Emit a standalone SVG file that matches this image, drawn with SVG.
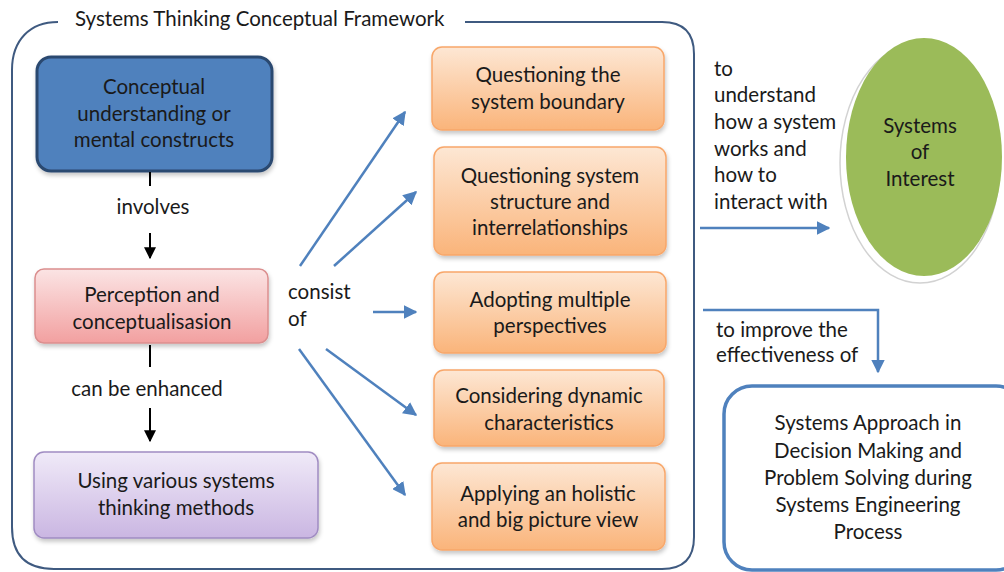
<svg xmlns="http://www.w3.org/2000/svg" width="1004" height="572" viewBox="0 0 1004 572">
<defs>
<linearGradient id="gOrange" x1="0" y1="0" x2="0" y2="1"><stop offset="0" stop-color="#FDE7D4"/><stop offset="1" stop-color="#FAB47A"/></linearGradient>
<linearGradient id="gPink" x1="0" y1="0" x2="0" y2="1"><stop offset="0" stop-color="#FBE4E4"/><stop offset="1" stop-color="#F2A0A0"/></linearGradient>
<linearGradient id="gPurple" x1="0" y1="0" x2="0" y2="1"><stop offset="0" stop-color="#F0EAF8"/><stop offset="1" stop-color="#CAB6E2"/></linearGradient>
<filter id="sh" x="-10%" y="-10%" width="120%" height="130%"><feDropShadow dx="1" dy="3" stdDeviation="2" flood-color="#000" flood-opacity="0.22"/></filter>
<marker id="ab" viewBox="0 0 10 10" refX="9" refY="5" markerWidth="5.5" markerHeight="5.5" orient="auto" markerUnits="strokeWidth"><path d="M0,0 L10,5 L0,10 z" fill="#4F81BD"/></marker>
<marker id="ak" viewBox="0 0 10 10" refX="9" refY="5" markerWidth="6" markerHeight="6" orient="auto" markerUnits="strokeWidth"><path d="M0,0 L10,5 L0,10 z" fill="#000"/></marker>
<style>
text{font-family:Lato,"Liberation Sans",sans-serif;font-size:20.5px;fill:#1a1a1a}
.c{text-anchor:middle}
.org{fill:url(#gOrange);stroke:#F8A76A;stroke-width:1.5;filter:url(#sh)}
.blu{stroke:#4F81BD;stroke-width:2.5;fill:none;marker-end:url(#ab)}
.blk{stroke:#000;stroke-width:2;fill:none}
</style>
</defs>

<g id="frame">
<path d="M465,22 L662,22 Q694,22 694,54 L694,537 Q694,569 662,569 L54,569 Q12,569 12,527 L12,70 C12,40 30,22 58,22" fill="none" stroke="#3F5A80" stroke-width="2"/>
<text x="75" y="26">Systems Thinking Conceptual Framework</text>
</g>

<g id="n-conceptual">
<rect x="37" y="57" width="235" height="114" rx="14" fill="#4F81BD" stroke="#2B4870" stroke-width="3" filter="url(#sh)"/>
<text class="c" x="154" y="94">Conceptual</text>
<text class="c" x="154" y="121">understanding or</text>
<text class="c" x="154" y="147">mental constructs</text>
</g>

<g id="n-perception">
<rect x="35" y="269" width="233" height="74" rx="9" fill="url(#gPink)" stroke="#DB8F8F" stroke-width="1.5" filter="url(#sh)"/>
<text class="c" x="152" y="302">Perception and</text>
<text class="c" x="152" y="329">conceptualisasion</text>
</g>

<g id="n-methods">
<rect x="34" y="452" width="284" height="86" rx="10" fill="url(#gPurple)" stroke="#A08CC2" stroke-width="1.5" filter="url(#sh)"/>
<text class="c" x="176" y="488">Using various systems</text>
<text class="c" x="176" y="515">thinking methods</text>
</g>

<g id="n-q1">
<rect class="org" x="432" y="47" width="232" height="83" rx="10"/>
<text class="c" x="548" y="82">Questioning the</text>
<text class="c" x="548" y="109">system boundary</text>
</g>
<g id="n-q2">
<rect class="org" x="434" y="147" width="232" height="108" rx="10"/>
<text class="c" x="550" y="183">Questioning system</text>
<text class="c" x="550" y="209">structure and</text>
<text class="c" x="550" y="235">interrelationships</text>
</g>
<g id="n-q3">
<rect class="org" x="434" y="272" width="232" height="81" rx="10"/>
<text class="c" x="550" y="307">Adopting multiple</text>
<text class="c" x="550" y="333">perspectives</text>
</g>
<g id="n-q4">
<rect class="org" x="434" y="370" width="230" height="76" rx="10"/>
<text class="c" x="549" y="403">Considering dynamic</text>
<text class="c" x="549" y="430">characteristics</text>
</g>
<g id="n-q5">
<rect class="org" x="432" y="463" width="233" height="87" rx="10"/>
<text class="c" x="548" y="501">Applying an holistic</text>
<text class="c" x="548" y="527">and big picture view</text>
</g>

<g id="n-soi">
<ellipse cx="920" cy="163" rx="80" ry="120" fill="#fff" stroke="#d2d2d2" stroke-width="1.5"/>
<ellipse cx="924" cy="157" rx="78" ry="119" fill="#9BBB59"/>
<text class="c" x="920" y="133">Systems</text>
<text class="c" x="920" y="159">of</text>
<text class="c" x="920" y="186">Interest</text>
</g>

<g id="n-approach">
<rect x="724" y="386" width="300" height="184" rx="28" fill="#fff" stroke="#4F81BD" stroke-width="3.5"/>
<text class="c" x="868" y="430">Systems Approach in</text>
<text class="c" x="868" y="458">Decision Making and</text>
<text class="c" x="868" y="485">Problem Solving during</text>
<text class="c" x="868" y="512">Systems Engineering</text>
<text class="c" x="868" y="539">Process</text>
</g>

<g id="connectors">
<line class="blk" x1="150" y1="172" x2="150" y2="186"/>
<text class="c" x="153" y="214">involves</text>
<line class="blk" x1="150" y1="233" x2="150" y2="258" marker-end="url(#ak)"/>
<line class="blk" x1="150" y1="345" x2="150" y2="367"/>
<text class="c" x="147" y="396">can be enhanced</text>
<line class="blk" x1="150" y1="408" x2="150" y2="441" marker-end="url(#ak)"/>

<text x="288" y="299">consist</text>
<text x="288" y="326">of</text>
<line class="blu" x1="300" y1="266" x2="405" y2="112"/>
<line class="blu" x1="334" y1="266" x2="416" y2="192"/>
<line class="blu" x1="373" y1="312" x2="416" y2="312"/>
<line class="blu" x1="326" y1="349" x2="416" y2="415"/>
<line class="blu" x1="299" y1="349" x2="405" y2="495"/>

<text x="714" y="76">to</text>
<text x="714" y="102">understand</text>
<text x="714" y="129">how a system</text>
<text x="714" y="156">works and</text>
<text x="714" y="182">how to</text>
<text x="714" y="209">interact with</text>
<line class="blu" x1="700" y1="228" x2="829" y2="228"/>

<polyline class="blu" points="703,310 878,310 878,372"/>
<text x="716" y="337">to improve the</text>
<text x="716" y="362">effectiveness of</text>
</g>
</svg>
